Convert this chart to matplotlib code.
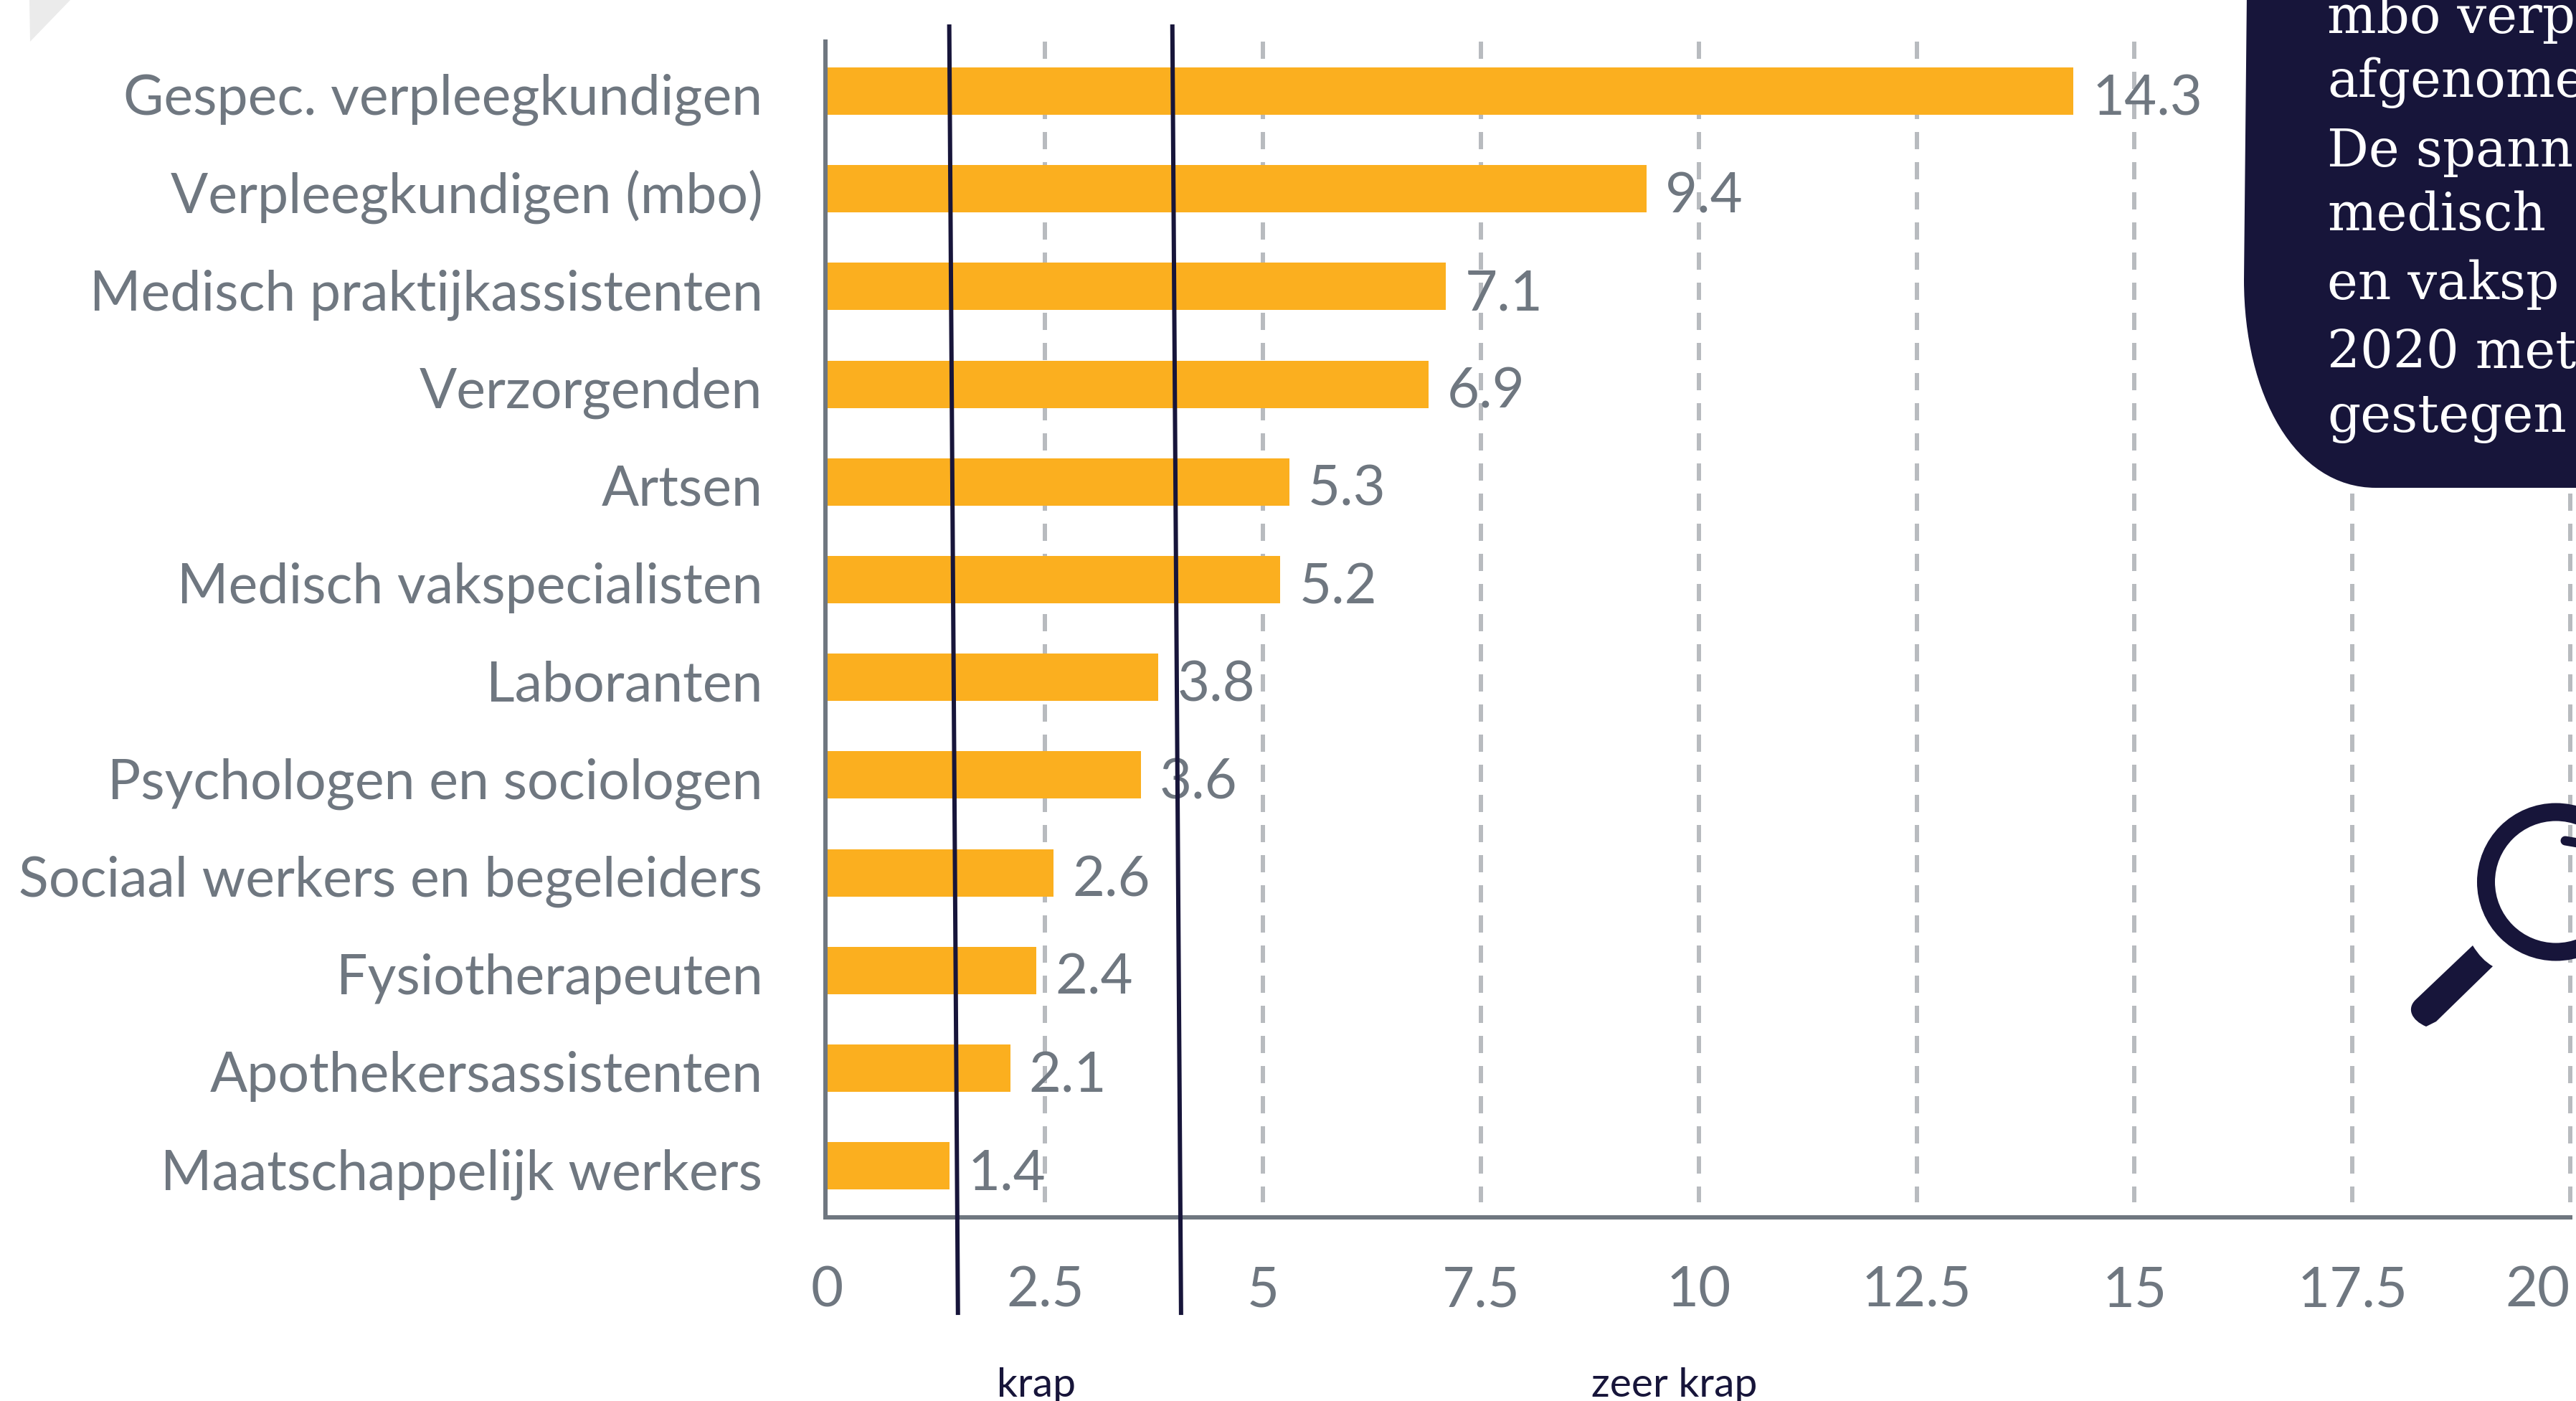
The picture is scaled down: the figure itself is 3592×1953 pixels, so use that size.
import matplotlib
matplotlib.use('Agg')
import matplotlib.pyplot as plt
from matplotlib.path import Path
from matplotlib.patches import PathPatch, Circle, Polygon

# Waarden uit de figuur
beroepen = ['Gespec. verpleegkundigen', 'Verpleegkundigen (mbo)', 'Medisch praktijkassistenten',
            'Verzorgenden', 'Artsen', 'Medisch vakspecialisten', 'Laboranten',
            'Psychologen en sociologen', 'Sociaal werkers en begeleiders', 'Fysiotherapeuten',
            'Apothekersassistenten', 'Maatschappelijk werkers']
spanning = [14.3, 9.4, 7.1, 6.9, 5.3, 5.2, 3.8, 3.6, 2.6, 2.4, 2.1, 1.4]
x_ticks = [0, 2.5, 5, 7.5, 10, 12.5, 15, 17.5, 20]
x_tick_labels = ['0', '2.5', '5', '7.5', '10', '12.5', '15', '17.5', '20']
grens_boven = [1.40, 3.96]
grens_onder = [1.50, 4.06]
grens_labels = ['krap', 'zeer krap']
grens_label_x = [2.4, 9.72]
tekst_regels = ['mbo verp', 'afgenome', 'De spann', 'medisch', 'en vaksp', '2020 met', 'gestegen']
tekst_basis = [46, 135, 232, 321, 417, 513, 602]

W, H = 3592, 1953
GRIJS = '#6f7780'
GRID = '#b8bbbf'
NAVY = '#17153a'
ORANJE = '#fbaf1f'
px = 0.72  # 1 pixel in punten bij dpi 100

plt.rcParams['font.family'] = ['Lato', 'DejaVu Sans']
plt.rcParams['lines.scale_dashes'] = False

fig = plt.figure(figsize=(W / 100, H / 100), dpi=100, facecolor='white')
ax = fig.add_axes([1153.5 / W, 1 - 1697 / H, (3584 - 1153.5) / W, (1697 - 58) / H])
ax.set_xlim(0, 20)
ax.set_ylim(11.527, -0.507)
ax.patch.set_visible(False)

# Gestippelde rasterlijnen, van boven naar beneden getekend
for t in x_ticks[1:]:
    ax.plot([t, t], [-0.507, 11.373], color=GRID, lw=6 * px, clip_on=False, zorder=1,
            linestyle=(0, (24 * px, 18 * px)), dash_capstyle='butt')

ys = range(len(beroepen))
ax.barh(list(ys), spanning, height=66 / 136.2, color=ORANJE, zorder=2)

for y, naam, v in zip(ys, beroepen, spanning):
    ax.annotate(naam, xy=(0, y), xytext=(-90 * px, -33 * px), textcoords='offset points',
                ha='right', va='baseline', fontsize=55.5, color=GRIJS)
    ax.annotate(f'{v:.1f}', xy=(v, y), xytext=(26 * px, -33 * px), textcoords='offset points',
                ha='left', va='baseline', fontsize=56, color=GRIJS, zorder=3)

# Grenzen krap / zeer krap lopen iets schuin
for boven, onder in zip(grens_boven, grens_onder):
    ax.plot([boven, onder], [-0.683, 12.526], color=NAVY, lw=6 * px, clip_on=False,
            zorder=5, solid_capstyle='butt')
for label, lx in zip(grens_labels, grens_label_x):
    ax.annotate(label, xy=(lx, 11.527), xytext=(0, -250 * px), textcoords='offset points',
                ha='center', va='baseline', fontsize=41, color=NAVY, annotation_clip=False)

ax.set_yticks([])
ax.set_xticks(x_ticks)
ax.set_xticklabels(x_tick_labels, fontsize=56, color=GRIJS)
ax.tick_params(axis='x', length=0, pad=68 * px)
ax.get_xticklabels()[-1].set_ha('right')

for s in ['top', 'right']:
    ax.spines[s].set_visible(False)
for s in ['left', 'bottom']:
    ax.spines[s].set_color(GRIJS)
    ax.spines[s].set_linewidth(6 * px)
    ax.spines[s].set_zorder(4)
ax.spines['left'].set_position(('outward', 3 * px))

# Laag in pixels voor de versiering
deco = fig.add_axes([0, 0, 1, 1], zorder=10)
deco.set_xlim(0, W)
deco.set_ylim(H, 0)
deco.axis('off')

deco.add_patch(Polygon([(41, 0), (98, 0), (42, 58)], closed=True, color='#ebebeb', lw=0))

# Tekstballon met afgeronde hoek, loopt door buiten beeld
ballon = Path([(3133, -10), (3129, 390), (3129, 550), (3200, 680), (3313, 680), (3600, 680), (3600, -10), (3133, -10)],
              [Path.MOVETO, Path.LINETO, Path.CURVE4, Path.CURVE4, Path.CURVE4, Path.LINETO, Path.LINETO, Path.CLOSEPOLY])
deco.add_patch(PathPatch(ballon, facecolor=NAVY, lw=0))
for regel, yb in zip(tekst_regels, tekst_basis):
    deco.text(3245, yb, regel, family='DejaVu Serif', fontsize=52, color='white', ha='left', va='baseline')

# Vergrootglas
deco.add_patch(Circle((3564, 1229.5), 97.5, facecolor='none', edgecolor=NAVY, lw=25 * px))
steel = Path([(3448, 1318), (3368, 1394), (3356, 1406), (3362, 1422), (3383, 1431), (3397, 1424), (3476, 1347), (3460, 1338), (3448, 1318)],
             [Path.MOVETO, Path.LINETO, Path.CURVE4, Path.CURVE4, Path.CURVE4, Path.LINETO, Path.LINETO, Path.CURVE3, Path.CURVE3])
deco.add_patch(PathPatch(steel, facecolor=NAVY, lw=0))
deco.plot([3577, 3600], [1172, 1176], color=NAVY, lw=13 * px, solid_capstyle='round')

fig.savefig('out.png', dpi=100)
